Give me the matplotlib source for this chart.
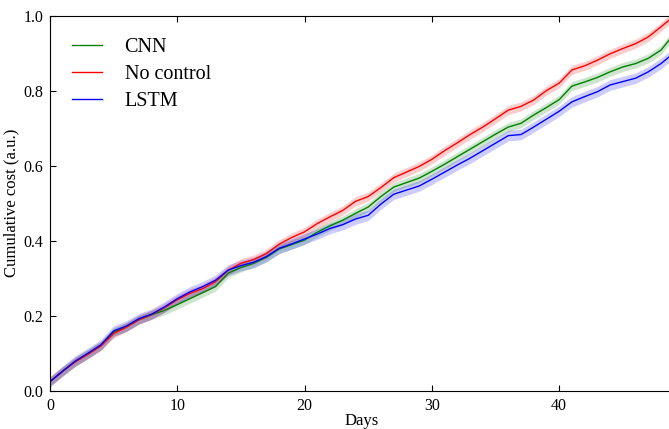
import numpy as np
import matplotlib
matplotlib.use("Agg")
import matplotlib.pyplot as plt

plt.rcParams['font.family'] = ['Liberation Serif', 'DejaVu Serif']

days = list(range(50))

# cumulative cost per day
cost_cnn = [0.025, 0.053, 0.079, 0.100, 0.121, 0.157, 0.171, 0.190, 0.203, 0.215,
            0.230, 0.246, 0.262, 0.278, 0.314, 0.329, 0.340, 0.356, 0.378, 0.390,
            0.402, 0.423, 0.440, 0.455, 0.473, 0.490, 0.518, 0.543, 0.555, 0.567,
            0.585, 0.604, 0.624, 0.644, 0.664, 0.684, 0.703, 0.713, 0.735, 0.755,
            0.776, 0.812, 0.823, 0.835, 0.850, 0.863, 0.872, 0.886, 0.908, 0.950]
cost_none = [0.025, 0.053, 0.078, 0.098, 0.120, 0.153, 0.170, 0.190, 0.204, 0.222,
             0.243, 0.260, 0.273, 0.291, 0.322, 0.340, 0.350, 0.366, 0.391, 0.409,
             0.424, 0.446, 0.464, 0.481, 0.505, 0.518, 0.542, 0.568, 0.583, 0.598,
             0.617, 0.640, 0.661, 0.683, 0.703, 0.725, 0.748, 0.758, 0.775, 0.800,
             0.820, 0.855, 0.866, 0.881, 0.898, 0.912, 0.925, 0.943, 0.970, 0.998]
cost_lstm = [0.025, 0.053, 0.080, 0.101, 0.123, 0.160, 0.173, 0.193, 0.205, 0.224,
             0.246, 0.264, 0.278, 0.295, 0.322, 0.334, 0.343, 0.358, 0.380, 0.392,
             0.405, 0.418, 0.433, 0.443, 0.458, 0.468, 0.498, 0.524, 0.535, 0.546,
             0.564, 0.583, 0.602, 0.620, 0.640, 0.660, 0.680, 0.683, 0.703, 0.724,
             0.745, 0.770, 0.784, 0.797, 0.815, 0.824, 0.833, 0.850, 0.872, 0.900]

# half width of the shaded band
spread = {'CNN': 0.012, 'No control': 0.012, 'LSTM': 0.014}

series = [('CNN', cost_cnn, 'g'), ('No control', cost_none, 'r'), ('LSTM', cost_lstm, 'b')]

fig = plt.figure(figsize=(6.69, 4.29), dpi=100)
ax = fig.add_axes([50 / 669, 38 / 429, 49 * 12.73 / 669, 375.5 / 429])

for name, vals, col in series:
    y = np.array(vals)
    ax.fill_between(days, y - spread[name], y + spread[name], color=col, alpha=0.2, lw=0)
    ax.plot(days, y, color=col, lw=1, label=name)

ax.set_xlim(0, 49)
ax.set_ylim(0, 1.0)
ax.set_xticks([0, 10, 20, 30, 40])
ax.set_yticks([0.0, 0.2, 0.4, 0.6, 0.8, 1.0])
ax.set_yticklabels(['0.0', '0.2', '0.4', '0.6', '0.8', '1.0'])
ax.tick_params(direction='in', top=True, right=False, labelsize=11.5, length=4, pad=5)
ax.set_xlabel('Days', fontsize=12, labelpad=-1)
ax.set_ylabel('Cumulative cost (a.u.)', fontsize=12, labelpad=3)

ax.legend(loc='upper left', frameon=False,
          fontsize=14.5, handlelength=1.5, handletextpad=1.1, labelspacing=0.4,
          borderaxespad=0.7)

fig.savefig('out.png', dpi=100)
